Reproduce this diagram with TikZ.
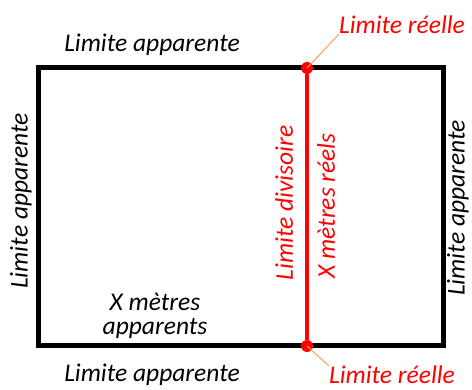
\documentclass[tikz,border=0pt]{standalone}
\usepackage{fontspec}
\setmainfont{Carlito}
\usepackage{tikz}

\definecolor{leader}{RGB}{244,164,96}

\tikzset{
    lbl/.style = {font = {\fontsize{25.5}{30}\selectfont\itshape}, black, inner sep=0pt},
    redlbl/.style = {lbl, red},
    dot/.style = {circle, fill=red, inner sep=0pt, minimum size=12pt}
}

\begin{document}
\begin{tikzpicture}[x=1pt, y=-1pt]
        \useasboundingbox (0, 0) rectangle (472, 390);
        % terrain
        \draw[line width=5pt, black] (38, 68) rectangle (443, 346);
        \node[dot] (top) at (307, 68) {};
        \node[dot] (bot) at (307, 346) {};
        \draw[line width=4pt, red] (top) -- (bot);
        % labels
        \node[lbl] (haut) at (152, 45) {Limite apparente};
        \node[lbl] (bas) at (152, 375) {Limite apparente};
        \node[lbl, rotate=90] (gauche) at (21, 201) {Limite apparente};
        \node[lbl, rotate=90] (droite) at (458, 208) {Limite apparente};
        \node[redlbl] (reelhaut) at (402, 25) {Limite réelle};
        \node[redlbl] (reelbas) at (392, 375) {Limite réelle};
        \node[redlbl, rotate=90] (divisoire) at (284, 203) {Limite divisoire};
        \node[redlbl, rotate=90] (reels) at (326, 206) {X mètres réels};
        \node[lbl] (metres) at (155, 302) {X mètres};
        \node[lbl] (apparents) at (155, 328) {apparents};
        % leaders
        \draw[leader, line width=1pt] (top.center) -- (reelhaut.south west);
        \draw[leader, line width=1pt] (bot.center) -- (reelbas.north west);
    \end{tikzpicture}
\end{document}
